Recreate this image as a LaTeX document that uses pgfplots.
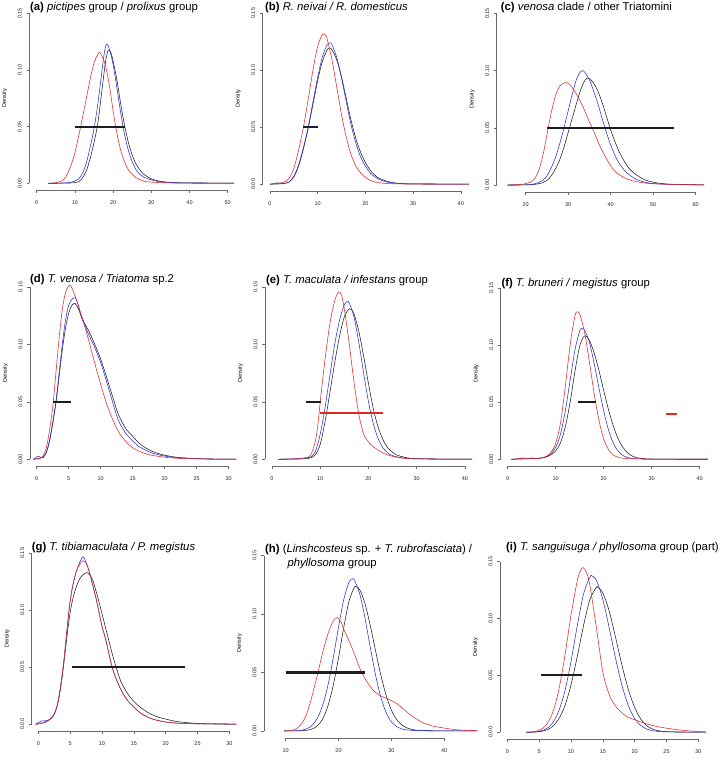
\documentclass[border=0pt]{standalone}
\usepackage{fontspec}
\setmainfont{Liberation Sans}
\usepackage{pgfplots}
\pgfplotsset{compat=1.18}
\definecolor{cred}{RGB}{225,40,40}
\definecolor{cblue}{RGB}{45,45,215}
\definecolor{cblack}{RGB}{30,30,30}
\definecolor{axgray}{RGB}{105,105,105}
\newcommand{\tfont}{\fontsize{11.3}{13.6}\selectfont}
\newcommand{\sfnt}{\fontsize{5.5}{6.6}\selectfont}
\pgfplotsset{
  dens/.style={
    scale only axis, anchor=south west,
    axis lines*=left, axis line style={draw=none},
    ymin=-0.006, ymax=0.156,
    ytick={0,0.05,0.1,0.15}, yticklabels={0.00,0.05,0.10,0.15},
    tick align=outside, major tick length=2.8pt,
    tick style={draw=axgray, line width=0.5pt},
    /pgf/number format/assume math mode=true,
    ticklabel style={font=\sfnt, text=black!85},
    yticklabel style={xshift=-4.6pt, rotate=90, anchor=south, inner sep=0pt},
    xticklabel style={anchor=north, inner sep=0pt, yshift=-7.8pt},
    clip=false,
  },
  cv/.style={line width=0.55pt, smooth, mark=none},
  seg/.style={draw=cblack, line width=2.1pt, mark=none},
  rseg/.style={draw=cred, line width=2.1pt, mark=none},
}
\newcommand{\dens}{\node[rotate=90, font=\sfnt] at ([xshift=-24.5pt]rel axis cs:0,0.5) {Density};}
\begin{document}
\begin{tikzpicture}
\path[use as bounding box] (0,0) rectangle (722pt,764pt);
% ---------------- (a)
\begin{axis}[dens, at={(29.3pt,573.9pt)}, width=204.9pt, height=183.5pt, xmin=-1.937, xmax=51.7,
  xtick={0,10,20,30,40,50}, xticklabels={0,10,20,30,40,50}]
\draw[axgray, line width=0.5pt] (axis cs:0,-0.006) -- (axis cs:50,-0.006);
\draw[axgray, line width=0.5pt] (axis cs:-1.937,0) -- (axis cs:-1.937,0.15);
\dens
\addplot[cv, cblack] coordinates {(3,0) (9,0.0003) (11,0.0015) (12,0.005) (13,0.011) (14,0.022) (15,0.036) (16,0.053) (17,0.080) (18,0.107) (18.7,0.1175) (19.4,0.1155) (20,0.108) (21,0.091) (22,0.070) (23,0.051) (24,0.036) (25,0.025) (26,0.017) (27,0.012) (28,0.008) (30,0.004) (32,0.002) (35,0.0008) (40,0.0003) (51.7,0.0002)};
\addplot[cv, cblue] coordinates {(3,0) (8,0.0005) (10,0.002) (11,0.004) (12,0.009) (13,0.018) (14,0.032) (15,0.048) (16,0.070) (17,0.097) (17.7,0.115) (18.3,0.123) (19,0.119) (20,0.105) (21,0.084) (22,0.062) (23,0.043) (24,0.029) (25,0.019) (26,0.012) (27,0.008) (28,0.0055) (30,0.003) (32,0.0015) (35,0.0006) (40,0.0003) (51.7,0.0002)};
\addplot[cv, cred] coordinates {(3,0) (5,0.0005) (7,0.003) (8,0.008) (9,0.016) (10,0.027) (11,0.042) (12,0.058) (13,0.075) (14,0.092) (15,0.106) (16,0.114) (16.5,0.1155) (17,0.113) (18,0.104) (19,0.087) (20,0.064) (21,0.044) (22,0.029) (23,0.019) (24,0.012) (25,0.008) (26,0.005) (28,0.002) (30,0.001) (35,0.0003) (40,0.0002) (51.7,0.0002)};
\addplot[seg] coordinates {(10,0.05) (23,0.05)};
\end{axis}
% ---------------- (b)
\begin{axis}[dens, at={(262.7pt,572.9pt)}, width=206.2pt, height=184.7pt, xmin=-1.530, xmax=41.7,
  xtick={0,10,20,30,40}, xticklabels={0,10,20,30,40}]
\draw[axgray, line width=0.5pt] (axis cs:0,-0.006) -- (axis cs:40,-0.006);
\draw[axgray, line width=0.5pt] (axis cs:-1.530,0) -- (axis cs:-1.530,0.15);
\dens
\addplot[cv, cblack] coordinates {(0,0) (2,0.0003) (3,0.0008) (4,0.002) (5,0.0065) (6,0.016) (7,0.031) (8,0.049) (9,0.070) (10,0.091) (11,0.108) (12,0.118) (12.5,0.1195) (13,0.118) (14,0.109) (15,0.094) (16,0.075) (17,0.056) (18,0.040) (19,0.028) (20,0.019) (21,0.0125) (22,0.008) (23,0.005) (25,0.002) (27,0.0008) (30,0.0003) (41.7,0.0001)};
\addplot[cv, cblue] coordinates {(0,0) (1,0.0008) (1.5,0.0013) (2,0.0009) (3,0.0008) (4,0.002) (5,0.007) (6,0.017) (7,0.032) (8,0.050) (9,0.072) (10,0.094) (11,0.112) (12,0.1225) (12.6,0.124) (13,0.1225) (14,0.111) (15,0.093) (16,0.072) (17,0.052) (18,0.036) (19,0.024) (20,0.016) (21,0.010) (22,0.0065) (23,0.004) (25,0.0015) (27,0.0006) (30,0.0003) (41.7,0.0001)};
\addplot[cv, cred] coordinates {(0,0) (1,0.0005) (2,0.001) (3,0.002) (4,0.005) (5,0.014) (6,0.030) (7,0.050) (8,0.074) (9,0.100) (10,0.121) (11,0.1315) (11.6,0.131) (12,0.127) (13,0.109) (14,0.085) (15,0.061) (16,0.041) (17,0.026) (18,0.016) (19,0.010) (20,0.006) (21,0.0035) (22,0.002) (24,0.0008) (26,0.0004) (30,0.0002) (41.7,0.0001)};
\addplot[seg] coordinates {(7,0.05) (10,0.05)};
\end{axis}
% ---------------- (c)
\begin{axis}[dens, at={(496.7pt,572.1pt)}, width=207.5pt, height=185.3pt, xmin=13.18, xmax=62,
  xtick={20,30,40,50,60}, xticklabels={20,30,40,50,60}]
\draw[axgray, line width=0.5pt] (axis cs:20,-0.006) -- (axis cs:60,-0.006);
\draw[axgray, line width=0.5pt] (axis cs:13.18,0) -- (axis cs:13.18,0.15);
\dens
\addplot[cv, cblack] coordinates {(15.7,0) (20,0.0001) (22,0.0005) (24,0.002) (25,0.004) (26,0.008) (27,0.014) (28,0.022) (29,0.033) (30,0.046) (31,0.059) (32,0.072) (33,0.084) (34,0.092) (34.5,0.0935) (35,0.093) (36,0.089) (37,0.082) (38,0.072) (39,0.060) (40,0.048) (41,0.038) (42,0.029) (43,0.022) (44,0.016) (45,0.012) (46,0.009) (48,0.0045) (50,0.0025) (52,0.0013) (55,0.0006) (62,0.0001)};
\addplot[cv, cblue] coordinates {(15.7,0) (20,0.0002) (22,0.001) (24,0.004) (25,0.008) (26,0.015) (27,0.024) (28,0.036) (29,0.050) (30,0.065) (31,0.080) (32,0.093) (33,0.0995) (33.5,0.100) (34,0.098) (35,0.092) (36,0.082) (37,0.071) (38,0.058) (39,0.046) (40,0.035) (41,0.026) (42,0.019) (43,0.014) (44,0.010) (46,0.005) (48,0.0025) (50,0.0013) (55,0.0004) (62,0.0001)};
\addplot[cv, cred] coordinates {(15.7,0) (18,0.0003) (20,0.0012) (21,0.0025) (22,0.005) (23,0.012) (24,0.025) (25,0.044) (26,0.063) (27,0.078) (28,0.0865) (29,0.089) (29.8,0.0895) (31,0.085) (32,0.079) (33,0.072) (34,0.064) (35,0.055) (36,0.047) (37,0.038) (38,0.030) (39,0.023) (40,0.017) (41,0.012) (42,0.009) (44,0.005) (46,0.003) (48,0.0018) (50,0.0011) (55,0.0005) (62,0.0001)};
\addplot[seg] coordinates {(25,0.05) (55,0.05)};
\end{axis}
% ---------------- (d)
\begin{axis}[dens, at={(30pt,297.8pt)}, width=206.4pt, height=186.3pt, xmin=-1.047, xmax=31.2,
  xtick={0,5,10,15,20,25,30}, xticklabels={0,5,10,15,20,25,30}]
\draw[axgray, line width=0.5pt] (axis cs:0,-0.006) -- (axis cs:30,-0.006);
\draw[axgray, line width=0.5pt] (axis cs:-1.047,0) -- (axis cs:-1.047,0.15);
\dens
\addplot[cv, cblack] coordinates {(-0.5,0) (0,0.0003) (0.5,0.0008) (1,0.002) (1.5,0.006) (2,0.016) (2.5,0.031) (3,0.049) (3.5,0.072) (4,0.095) (4.5,0.114) (5,0.127) (5.5,0.134) (6,0.1355) (6.5,0.131) (7,0.124) (7.5,0.118) (8,0.113) (9,0.101) (10,0.087) (11,0.070) (12,0.052) (12.5,0.043) (13,0.036) (14,0.026) (15,0.020) (16,0.014) (17,0.010) (18,0.007) (19,0.005) (20,0.0035) (22,0.0017) (25,0.0006) (28,0.0002) (31.2,0.0001)};
\addplot[cv, cblue] coordinates {(-0.5,0) (0,0.002) (0.3,0.0028) (0.7,0.0015) (1,0.0015) (1.5,0.006) (2,0.016) (2.5,0.032) (3,0.050) (3.5,0.075) (4,0.100) (4.5,0.121) (5,0.134) (5.5,0.139) (6,0.1405) (6.5,0.134) (7,0.123) (7.5,0.117) (8,0.110) (9,0.098) (10,0.084) (11,0.066) (12,0.047) (12.5,0.038) (13,0.031) (14,0.022) (15,0.016) (16,0.011) (17,0.008) (18,0.0055) (19,0.004) (20,0.0028) (22,0.0013) (25,0.0005) (28,0.0002) (31.2,0.0001)};
\addplot[cv, cred] coordinates {(-0.5,0) (0,0.0005) (0.5,0.001) (1,0.003) (1.5,0.010) (2,0.025) (2.5,0.045) (3,0.075) (3.5,0.105) (4,0.130) (4.5,0.145) (5.1,0.1515) (5.5,0.149) (6,0.142) (7,0.125) (8,0.106) (9,0.085) (10,0.065) (11,0.047) (12,0.033) (13,0.022) (14,0.015) (15,0.010) (16,0.007) (17,0.005) (18,0.0035) (20,0.0018) (22,0.0009) (25,0.0004) (28,0.0002) (31.2,0.0001)};
\addplot[seg] coordinates {(2.6,0.05) (5.4,0.05)};
\end{axis}
% ---------------- (e)
\begin{axis}[dens, at={(265pt,297.8pt)}, width=207.2pt, height=186.3pt, xmin=-1.451, xmax=41.5,
  xtick={0,10,20,30,40}, xticklabels={0,10,20,30,40}]
\draw[axgray, line width=0.5pt] (axis cs:0,-0.006) -- (axis cs:40,-0.006);
\draw[axgray, line width=0.5pt] (axis cs:-1.451,0) -- (axis cs:-1.451,0.15);
\dens
\addplot[cv, cblack] coordinates {(1.3,0) (6,0.0003) (8,0.0012) (9,0.004) (10,0.013) (11,0.033) (12,0.058) (13,0.084) (14,0.107) (15,0.124) (16.1,0.131) (17,0.1263) (18,0.1112) (19,0.0895) (20,0.0658) (21,0.044) (22,0.028) (23,0.017) (24,0.010) (25,0.006) (26,0.0035) (28,0.0013) (30,0.0006) (35,0.0002) (41.5,0.0001)};
\addplot[cv, cblue] coordinates {(1.3,0) (4,0.0004) (6,0.0008) (8,0.002) (9,0.007) (10,0.022) (11,0.045) (12,0.073) (13,0.100) (14,0.121) (15,0.1345) (15.6,0.137) (16,0.136) (17,0.1237) (18,0.1015) (19,0.0748) (20,0.050) (21,0.031) (22,0.018) (23,0.010) (24,0.0055) (25,0.0032) (26,0.002) (28,0.0008) (30,0.0004) (35,0.0002) (41.5,0.0001)};
\addplot[cv, cred] coordinates {(1.3,0) (4,0.0002) (6,0.0008) (7,0.0015) (8,0.0035) (9,0.016) (9.5,0.030) (10,0.050) (11,0.087) (12,0.118) (13,0.138) (13.8,0.1455) (14.4,0.143) (15,0.1305) (16,0.1008) (17,0.067) (18,0.039) (19,0.022) (20,0.015) (21,0.011) (22,0.008) (23,0.0055) (24,0.0037) (26,0.0016) (28,0.0007) (30,0.0004) (35,0.0002) (41.5,0.0001)};
\addplot[seg] coordinates {(7,0.05) (10.2,0.05)};
\addplot[rseg] coordinates {(10,0.04) (23.1,0.04)};
\end{axis}
% ---------------- (f)
\begin{axis}[dens, at={(500.7pt,297.8pt)}, width=207.2pt, height=185.2pt, xmin=-1.458, xmax=41.7,
  xtick={0,10,20,30,40}, xticklabels={0,10,20,30,40}]
\draw[axgray, line width=0.5pt] (axis cs:0,-0.006) -- (axis cs:40,-0.006);
\draw[axgray, line width=0.5pt] (axis cs:-1.458,0) -- (axis cs:-1.458,0.15);
\dens
\addplot[cv, cblack] coordinates {(0.7,0) (3,0.0003) (5,0.0006) (7,0.0012) (8,0.002) (9,0.004) (10,0.0075) (11,0.0145) (12,0.0285) (13,0.050) (14,0.0768) (15,0.0991) (16,0.108) (17,0.1041) (18,0.0933) (19,0.0778) (20,0.0602) (21,0.0434) (22,0.029) (23,0.018) (24,0.0105) (25,0.0056) (26,0.0028) (27,0.0014) (28,0.0007) (30,0.0003) (35,0.0001) (41.7,0.0001)};
\addplot[cv, cblue] coordinates {(0.7,0) (2,0.0005) (3,0.0012) (4,0.0006) (5,0.0012) (6,0.0008) (7,0.0012) (8,0.0022) (9,0.005) (10,0.0105) (11,0.0221) (12,0.0424) (13,0.069) (14,0.0955) (15,0.1123) (15.5,0.1146) (16,0.1132) (17,0.1026) (18,0.0841) (19,0.0626) (20,0.0421) (21,0.0257) (22,0.0142) (23,0.0071) (24,0.0034) (25,0.0016) (26,0.0008) (28,0.0003) (35,0.0001) (41.7,0.0001)};
\addplot[cv, cred] coordinates {(0.7,0) (2,0.0004) (3,0.0009) (4,0.0005) (5,0.001) (6,0.0007) (7,0.0012) (8,0.0025) (9,0.006) (10,0.014) (11,0.032) (12,0.0636) (13,0.100) (14,0.1254) (14.5,0.129) (15,0.127) (16,0.1113) (17,0.0856) (18,0.0577) (19,0.0342) (20,0.0177) (21,0.0085) (22,0.0038) (23,0.0018) (24,0.001) (26,0.0005) (30,0.0002) (35,0.0001) (41.7,0.0001)};
\addplot[seg] coordinates {(14.7,0.05) (18.3,0.05)};
\addplot[rseg] coordinates {(32.9,0.04) (35.2,0.04)};
\end{axis}
% ---------------- (g)
\begin{axis}[dens, at={(31.7pt,32.9pt)}, width=204.7pt, height=184.7pt, xmin=-1.036, xmax=31.1,
  xtick={0,5,10,15,20,25,30}, xticklabels={0,5,10,15,20,25,30}]
\draw[axgray, line width=0.5pt] (axis cs:0,-0.006) -- (axis cs:30,-0.006);
\draw[axgray, line width=0.5pt] (axis cs:-1.036,0) -- (axis cs:-1.036,0.15);
\dens
\addplot[cv, cblack] coordinates {(-0.4,0) (0,0.0003) (1,0.0015) (1.5,0.003) (2,0.005) (2.5,0.009) (3,0.017) (3.5,0.032) (4,0.053) (4.5,0.077) (5,0.098) (5.5,0.112) (6,0.121) (6.5,0.1275) (7,0.131) (7.6,0.133) (8,0.1315) (8.5,0.127) (9,0.118) (9.5,0.108) (10,0.097) (10.5,0.086) (11,0.075) (11.5,0.064) (12,0.054) (12.5,0.045) (13,0.037) (14,0.027) (15,0.020) (16,0.015) (17,0.011) (18,0.008) (19,0.006) (20,0.0045) (22,0.0022) (25,0.0007) (28,0.0002) (31.1,0.0001)};
\addplot[cv, cblue] coordinates {(-0.4,0) (0,0.0015) (0.5,0.003) (1,0.003) (1.5,0.0035) (2,0.005) (2.5,0.009) (3,0.017) (3.5,0.033) (4,0.055) (4.5,0.083) (5,0.108) (5.5,0.124) (6,0.1345) (6.5,0.142) (7,0.147) (7.5,0.142) (8,0.134) (8.5,0.123) (9,0.112) (9.5,0.099) (10,0.086) (10.5,0.076) (11,0.064) (11.5,0.052) (12,0.043) (13,0.030) (14,0.021) (15,0.015) (16,0.010) (17,0.0067) (18,0.0045) (19,0.003) (20,0.002) (22,0.0009) (25,0.0004) (27,0.0004) (31.1,0.0001)};
\addplot[cv, cred] coordinates {(-0.4,0) (0,0.0005) (0.5,0.001) (1,0.002) (1.5,0.003) (2,0.005) (2.5,0.009) (3,0.017) (3.5,0.033) (4,0.055) (4.5,0.083) (5,0.108) (5.5,0.124) (6,0.1345) (6.5,0.140) (7,0.1435) (7.5,0.141) (8,0.134) (8.5,0.123) (9,0.112) (9.5,0.099) (10,0.086) (10.5,0.076) (11,0.064) (11.5,0.052) (12,0.043) (13,0.030) (14,0.021) (15,0.015) (16,0.010) (17,0.0067) (18,0.0045) (19,0.003) (20,0.002) (22,0.0009) (25,0.0004) (27,0.0004) (31.1,0.0001)};
\addplot[seg] coordinates {(5.25,0.05) (23,0.05)};
\end{axis}
% ---------------- (h)
\begin{axis}[dens, at={(264pt,26pt)}, width=213.4pt, height=189.5pt, xmin=5.89, xmax=46.3,
  xtick={10,20,30,40}, xticklabels={10,20,30,40}]
\draw[axgray, line width=0.5pt] (axis cs:10,-0.006) -- (axis cs:40,-0.006);
\draw[axgray, line width=0.5pt] (axis cs:5.89,0) -- (axis cs:5.89,0.15);
\dens
\addplot[cv, cblack] coordinates {(9.7,0) (13,0.0002) (14,0.0006) (15,0.0017) (16,0.0044) (17,0.0103) (18,0.0215) (19,0.0389) (20,0.0626) (21,0.0887) (22,0.1112) (23,0.1228) (23.3,0.1235) (24,0.121) (25,0.1092) (26,0.0904) (27,0.0688) (28,0.048) (29,0.0308) (30,0.018) (31,0.0098) (32,0.0052) (33,0.0026) (34,0.0012) (35,0.0006) (37,0.0002) (46.3,0.0001)};
\addplot[cv, cblue] coordinates {(9.7,0) (12,0.0002) (13,0.0007) (14,0.0019) (15,0.0049) (16,0.011) (17,0.022) (18,0.0391) (19,0.0624) (20,0.0887) (21,0.1125) (22,0.1274) (22.6,0.130) (23,0.129) (24,0.1175) (25,0.0967) (26,0.0718) (27,0.0481) (28,0.0291) (29,0.0159) (30,0.0079) (31,0.0038) (32,0.0018) (33,0.0009) (35,0.0003) (40,0.0001) (46.3,0.0001)};
\addplot[cv, cred] coordinates {(9.7,0) (11,0.0005) (12,0.002) (13,0.006) (14,0.015) (15,0.030) (16,0.048) (17,0.067) (18,0.083) (19,0.094) (19.7,0.097) (20.5,0.093) (21,0.087) (22,0.077) (23,0.066) (24,0.054) (25,0.045) (26,0.038) (27,0.033) (28,0.030) (29,0.028) (30,0.026) (31,0.0235) (32,0.020) (33,0.016) (34,0.0125) (35,0.0095) (36,0.007) (37,0.0055) (38,0.004) (40,0.0025) (42,0.0012) (44,0.0006) (46.3,0.0003)};
\addplot[seg] coordinates {(10,0.05) (25,0.05)};
\end{axis}
% ---------------- (i)
\begin{axis}[dens, at={(500pt,24.9pt)}, width=206pt, height=184.4pt, xmin=-1.146, xmax=31.2,
  xtick={0,5,10,15,20,25,30}, xticklabels={0,5,10,15,20,25,30}]
\draw[axgray, line width=0.5pt] (axis cs:0,-0.006) -- (axis cs:30,-0.006);
\draw[axgray, line width=0.5pt] (axis cs:-1.146,0) -- (axis cs:-1.146,0.15);
\dens
\addplot[cv, cblack] coordinates {(3,0) (4,0.0001) (5,0.0005) (6,0.0017) (7,0.0046) (8,0.0109) (9,0.0226) (10,0.0416) (11,0.067) (12,0.0945) (13,0.1171) (14,0.1273) (14.2,0.1274) (15,0.1225) (16,0.1064) (17,0.0834) (18,0.059) (19,0.0377) (20,0.0218) (21,0.0113) (22,0.0053) (23,0.0024) (24,0.0011) (25,0.0005) (27,0.0002) (31.2,0.0001)};
\addplot[cv, cblue] coordinates {(3,0) (4,0.0002) (5,0.0008) (6,0.0027) (7,0.0073) (8,0.0175) (9,0.0353) (10,0.0621) (11,0.094) (12,0.1221) (13,0.1367) (13.3,0.1374) (14,0.1334) (15,0.1167) (16,0.0917) (17,0.0649) (18,0.0413) (19,0.0235) (20,0.012) (21,0.0058) (22,0.0026) (23,0.0012) (24,0.0006) (26,0.0003) (31.2,0.0001)};
\addplot[cv, cred] coordinates {(3,0) (4,0.0004) (5,0.0017) (6,0.0057) (7,0.0155) (8,0.0349) (9,0.0657) (10,0.1027) (11,0.1336) (11.5,0.1422) (11.9,0.1447) (12.5,0.1397) (13,0.128) (14,0.0915) (15,0.053) (16,0.033) (17,0.023) (18,0.017) (19,0.013) (20,0.011) (21,0.009) (22,0.0072) (23,0.0057) (24,0.0045) (25,0.0036) (26,0.0028) (27,0.0021) (28,0.0015) (29,0.001) (31.2,0.0003)};
\addplot[seg] coordinates {(5.3,0.05) (11.7,0.05)};
\end{axis}
% ---------------- titles
\node[anchor=base west, font=\tfont, inner sep=0pt] at (30pt,753pt) {\textbf{(a)} \textit{pictipes} group / \textit{prolixus} group};
\node[anchor=base west, font=\tfont, inner sep=0pt] at (265pt,753pt) {\textbf{(b)} \textit{R. neivai / R. domesticus}};
\node[anchor=base west, font=\tfont, inner sep=0pt] at (500.7pt,753pt) {\textbf{(c)} \textit{venosa} clade / other Triatomini};
\node[anchor=base west, font=\tfont, inner sep=0pt] at (30pt,481pt) {\textbf{(d)} \textit{T. venosa / Triatoma} sp.2};
\node[anchor=base west, font=\tfont, inner sep=0pt] at (266pt,480.5pt) {\textbf{(e)} \textit{T. maculata / infestans} group};
\node[anchor=base west, font=\tfont, inner sep=0pt] at (501.3pt,477.5pt) {\textbf{(f)} \textit{T. bruneri / megistus} group};
\node[anchor=base west, font=\tfont, inner sep=0pt] at (31.7pt,213pt) {\textbf{(g)} \textit{T. tibiamaculata / P. megistus}};
\node[anchor=base west, font=\tfont, inner sep=0pt] at (265pt,211pt) {\textbf{(h)} (\textit{Linshcosteus} sp. + \textit{T. rubrofasciata}) /};
\node[anchor=base west, font=\tfont, inner sep=0pt] at (287.3pt,197pt) {\textit{phyllosoma} group};
\node[anchor=base west, font=\tfont, inner sep=0pt] at (506pt,213pt) {\textbf{(i)} \textit{T. sanguisuga / phyllosoma} group (part)};
\end{tikzpicture}
\end{document}
